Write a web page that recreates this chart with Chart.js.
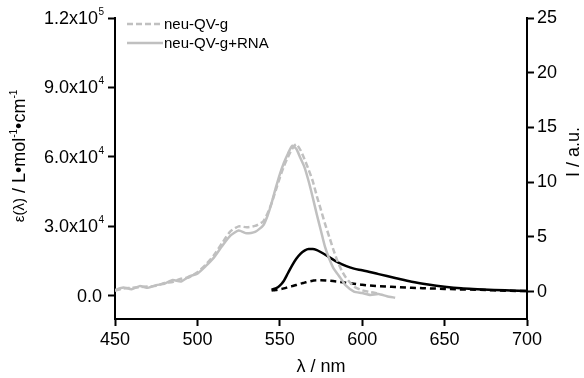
<!DOCTYPE html>
<html>
<head>
<meta charset="utf-8">
<script src="https://cdn.jsdelivr.net/npm/chart.js"></script>
<style>
  body { margin: 0; background: #fff; }
</style>
</head>
<body>
<canvas id="spectra" width="584" height="378"></canvas>
<script>
// Absorption spectra (left axis, epsilon in L/mol/cm)
const absWl = [450, 455, 460, 465, 470, 475, 480, 485, 490, 495, 500, 505, 510, 515, 520, 525, 530, 535, 540,
  542.5, 545, 547.5, 550, 552.5, 555, 557.5, 560, 562.5, 565, 567.5, 570, 572.5, 575, 577.5, 580, 582.5, 585,
  587.5, 590, 595, 600, 605, 610, 615, 620];
const absFree = [2200, 3200, 3400, 3800, 4000, 4300, 5600, 6000, 7400, 8000, 10200, 13400, 17500, 22800, 27800, 30000, 29600, 30200, 32200,
  35500, 40000, 45500, 51000, 56000, 60000, 63500, 65500, 63000, 59000, 54500, 49500, 43000, 37000, 31000, 25500, 20000, 15000,
  11000, 8000, 4000, 2400, 1600, 1000];
const absRna = [2500, 3600, 2900, 4200, 3500, 4600, 5200, 6800, 6200, 8400, 9600, 12800, 16500, 21500, 26000, 28200, 27000, 27600, 30500,
  34500, 40000, 46500, 52500, 57500, 61500, 64800, 63500, 59500, 55500, 49500, 42500, 35000, 28000, 21000, 16000, 12000, 9500,
  7000, 4500, 1800, 1200, 400, 800, -200, -800];

// Emission spectra (right axis, a.u.)
const emWl = [545, 547.5, 550, 552.5, 555, 557.5, 560, 562.5, 565, 567.5, 570, 572.5, 575, 580, 585, 590, 595, 600,
  610, 620, 630, 640, 650, 660, 670, 680, 690, 700];
const emFree = [0.1, 0.15, 0.22, 0.3, 0.4, 0.5, 0.6, 0.72, 0.82, 0.92, 1.0, 1.05, 1.05, 1.0, 0.92, 0.82, 0.72, 0.62,
  0.5, 0.42, 0.35, 0.3, 0.25, 0.2, 0.17, 0.12, 0.08, 0.05];
const emRna = [0.2, 0.3, 0.55, 1.0, 1.7, 2.4, 3.0, 3.45, 3.75, 3.9, 3.9, 3.8, 3.6, 3.15, 2.7, 2.35, 2.1, 1.95,
  1.6, 1.25, 0.9, 0.65, 0.45, 0.3, 0.22, 0.15, 0.1, 0.05];

const seriesNames = ['neu-QV-g', 'neu-QV-g+RNA'];
const xTicks = [450, 500, 550, 600, 650, 700];
const epsTicks = [0, 30000, 60000, 90000, 120000];
const intTicks = [0, 5, 10, 15, 20, 25];

const FONT = '"Liberation Sans", Arial, sans-serif';
const GRAY = '#c0c0c0';

const toPoints = (xs, ys) => xs.map((x, i) => ({ x: x, y: ys[i] }));

const axisGrid = { drawOnChartArea: false, drawTicks: true, tickLength: 7, tickWidth: 2, color: '#000' };
const axisBorder = { display: true, color: '#000', width: 2 };

// Draw the superscript tick labels, axis titles and the legend
const overlay = {
  id: 'overlay',
  afterDraw(chart) {
    const ctx = chart.ctx;
    const yS = chart.scales.y;
    ctx.save();
    ctx.fillStyle = '#000';
    ctx.textBaseline = 'middle';
    ctx.textAlign = 'right';

    epsTicks.forEach(v => {
      const py = yS.getPixelForValue(v);
      if (v === 0) {
        ctx.font = '18px ' + FONT;
        ctx.fillText('0.0', 102, py + 1);
        return;
      }
      const e = Math.floor(Math.log10(v));
      const m = (v / Math.pow(10, e)).toFixed(1);
      ctx.font = '10px ' + FONT;
      ctx.fillText(String(e), 104, py - 6);
      const w = ctx.measureText(String(e)).width;
      ctx.font = '18px ' + FONT;
      ctx.fillText(m + 'x10', 104 - w - 0.5, py + 1);
    });

    // left title, rotated
    const parts = [
      { t: 'ε(λ)', f: 15, dy: 0 },
      { t: ' / L•mol', f: 18, dy: 0 },
      { t: '-1', f: 10, dy: -6 },
      { t: '•cm', f: 18, dy: 0 },
      { t: '-1', f: 10, dy: -6 }
    ];
    ctx.textAlign = 'left';
    let total = 0;
    parts.forEach(p => { ctx.font = p.f + 'px ' + FONT; p.w = ctx.measureText(p.t).width; total += p.w; });
    ctx.save();
    ctx.translate(20, 156);
    ctx.rotate(-Math.PI / 2);
    let px = -total / 2;
    parts.forEach(p => {
      ctx.font = p.f + 'px ' + FONT;
      ctx.fillText(p.t, px, p.dy);
      px += p.w;
    });
    ctx.restore();

    // right title
    ctx.save();
    ctx.translate(574, 152);
    ctx.rotate(-Math.PI / 2);
    ctx.textAlign = 'center';
    ctx.font = '18px ' + FONT;
    ctx.fillText('I / a.u.', 0, 0);
    ctx.restore();

    // x title
    ctx.textAlign = 'center';
    ctx.font = '18px ' + FONT;
    ctx.fillText('λ / nm', 321, 367);

    // legend
    const rows = [{ y: 24, dash: [6, 3] }, { y: 43, dash: [] }];
    rows.forEach((r, i) => {
      ctx.strokeStyle = GRAY;
      ctx.lineWidth = 2.5;
      ctx.setLineDash(r.dash);
      ctx.beginPath();
      ctx.moveTo(127, r.y);
      ctx.lineTo(163, r.y);
      ctx.stroke();
      ctx.setLineDash([]);
      ctx.textAlign = 'left';
      ctx.font = '15px ' + FONT;
      ctx.fillText(seriesNames[i], 164, r.y + 1);
    });
    ctx.restore();
  }
};

new Chart(document.getElementById('spectra').getContext('2d'), {
  type: 'line',
  data: {
    datasets: [
      {
        label: seriesNames[0],
        data: toPoints(absWl, absFree),
        yAxisID: 'y',
        borderColor: GRAY,
        borderWidth: 2.5,
        borderDash: [6, 3],
        pointRadius: 0,
        tension: 0.2
      },
      {
        label: seriesNames[1],
        data: toPoints(absWl, absRna),
        yAxisID: 'y',
        borderColor: GRAY,
        borderWidth: 2.5,
        pointRadius: 0,
        tension: 0.2
      },
      {
        label: seriesNames[0] + ' emission',
        data: toPoints(emWl, emFree),
        yAxisID: 'y2',
        borderColor: '#000',
        borderWidth: 2.5,
        borderDash: [6, 4],
        pointRadius: 0,
        cubicInterpolationMode: 'monotone'
      },
      {
        label: seriesNames[1] + ' emission',
        data: toPoints(emWl, emRna),
        yAxisID: 'y2',
        borderColor: '#000',
        borderWidth: 2.5,
        pointRadius: 0,
        cubicInterpolationMode: 'monotone'
      }
    ]
  },
  options: {
    responsive: false,
    animation: false,
    layout: { padding: { top: 18, left: 0, right: 0, bottom: 0 } },
    plugins: {
      legend: { display: false },
      tooltip: { enabled: false }
    },
    scales: {
      x: {
        type: 'linear',
        min: 450,
        max: 700,
        afterBuildTicks: s => { s.ticks = xTicks.map(v => ({ value: v })); },
        afterFit: s => { s.height = 59; },
        grid: axisGrid,
        border: axisBorder,
        ticks: { color: '#000', padding: 3, maxRotation: 0, font: { family: FONT, size: 18 } }
      },
      y: {
        position: 'left',
        min: -10000,
        max: 120000,
        afterBuildTicks: s => { s.ticks = epsTicks.map(v => ({ value: v })); },
        afterFit: s => { s.width = 115; },
        grid: axisGrid,
        border: axisBorder,
        ticks: { callback: () => '', font: { family: FONT, size: 18 } }
      },
      y2: {
        position: 'right',
        min: -2.5,
        max: 25,
        afterBuildTicks: s => { s.ticks = intTicks.map(v => ({ value: v })); },
        afterFit: s => { s.width = 57; },
        grid: axisGrid,
        border: axisBorder,
        ticks: { color: '#000', padding: 3, font: { family: FONT, size: 18 } }
      }
    }
  },
  plugins: [overlay]
});
</script>
</body>
</html>
